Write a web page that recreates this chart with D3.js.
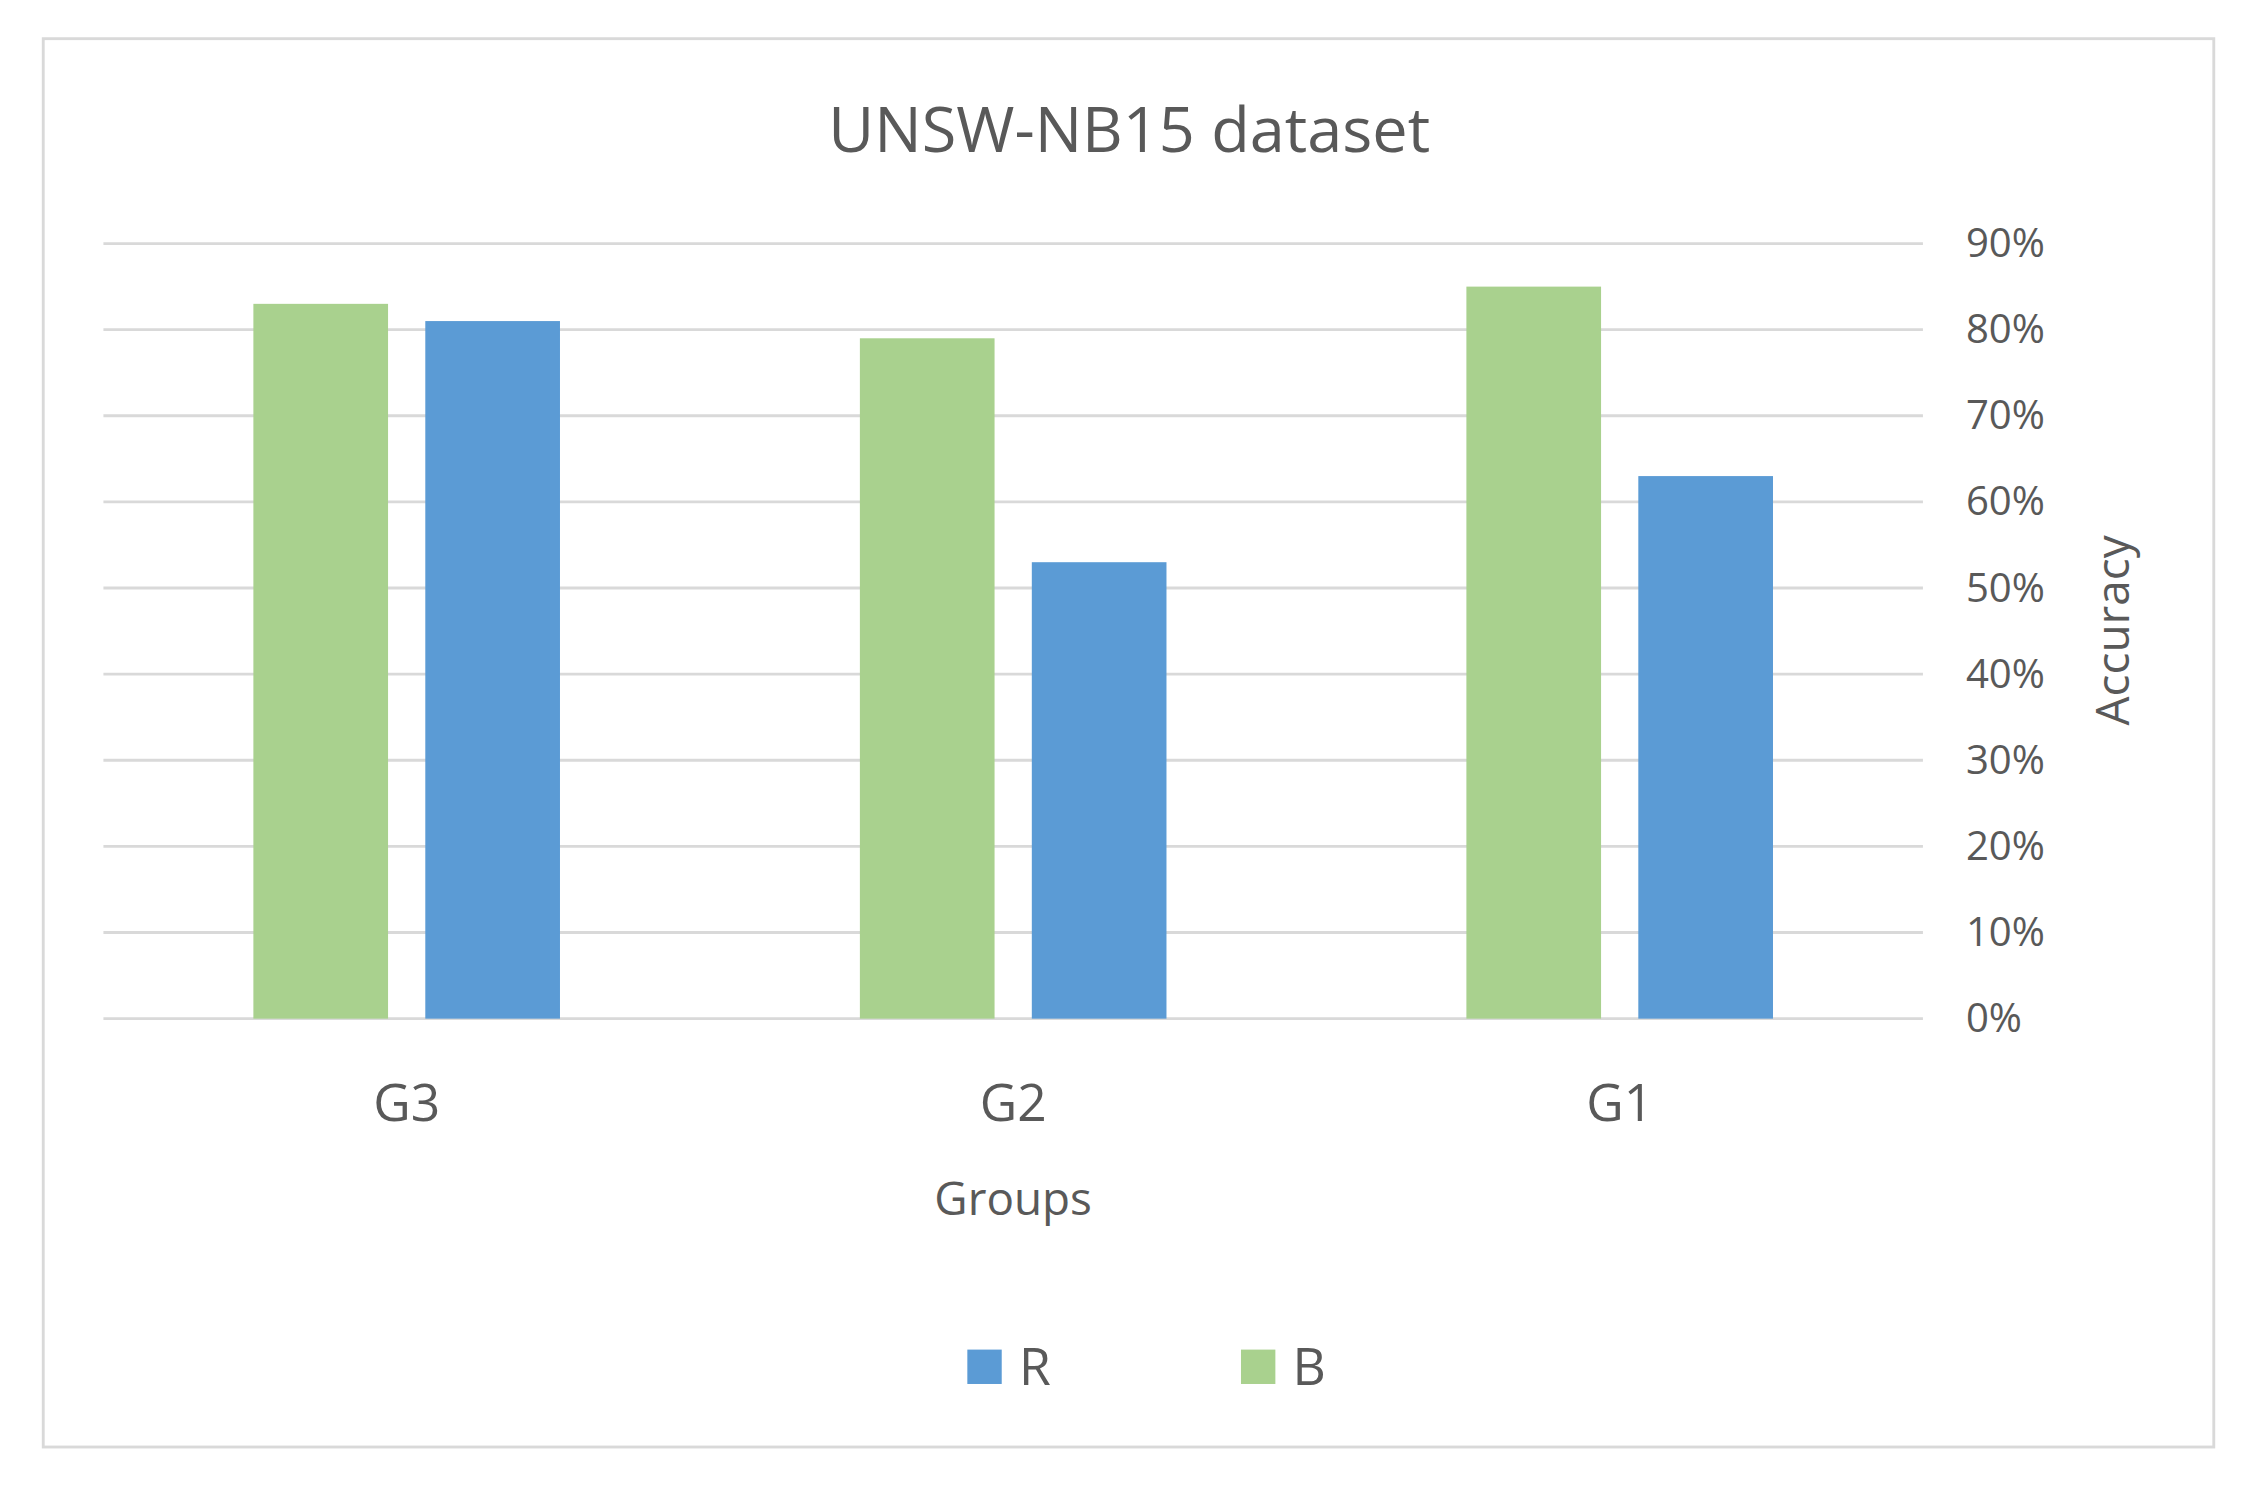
<!DOCTYPE html>
<html>
<head>
<meta charset="utf-8">
<script src="https://cdn.jsdelivr.net/npm/d3@7"></script>
<style>
  html, body { margin: 0; padding: 0; background: #fff; }
  text { font-family: "Open Sans", "Noto Sans", sans-serif; fill: #595959; }
</style>
</head>
<body>
<div id="chart"></div>
<script>
var groups   = ['G3', 'G2', 'G1'];
var seriesB  = [0.83, 0.79, 0.85];
var seriesR  = [0.81, 0.53, 0.63];
var yTicks   = [0, 0.1, 0.2, 0.3, 0.4, 0.5, 0.6, 0.7, 0.8, 0.9];

var W = 1568, H = 1040;
var svg = d3.select('#chart').append('svg')
    .attr('width', 2247).attr('height', 1490)
    .attr('viewBox', '0 0 ' + W + ' ' + H);

svg.append('rect')
    .attr('x', 30).attr('y', 27).attr('width', 1515).attr('height', 983)
    .attr('fill', '#fff').attr('stroke', '#d9d9d9').attr('stroke-width', 2);

var x = d3.scaleBand().domain(groups).range([72, 1342]);
var y = d3.scaleLinear().domain([0, 0.9]).range([711, 170]);

// grid
svg.selectAll('line.grid').data(yTicks).enter().append('line')
    .attr('class', 'grid')
    .attr('x1', 72).attr('x2', 1342)
    .attr('y1', function (d) { return y(d); })
    .attr('y2', function (d) { return y(d); })
    .attr('stroke', '#d9d9d9').attr('stroke-width', 2);

var barW = 94, gap = 13;
function cx(g) { return x(g) + x.bandwidth() / 2; }

svg.selectAll('rect.b').data(seriesB).enter().append('rect')
    .attr('x', function (d, i) { return cx(groups[i]) - gap - barW; })
    .attr('y', function (d) { return y(d); })
    .attr('width', barW)
    .attr('height', function (d) { return y(0) - y(d); })
    .attr('fill', '#a9d18e');

svg.selectAll('rect.r').data(seriesR).enter().append('rect')
    .attr('x', function (d, i) { return cx(groups[i]) + gap; })
    .attr('y', function (d) { return y(d); })
    .attr('width', barW)
    .attr('height', function (d) { return y(0) - y(d); })
    .attr('fill', '#5b9bd5');

// y axis (right)
var yAxis = svg.append('g').attr('transform', 'translate(1362,0)')
    .call(d3.axisRight(y).tickValues(yTicks).tickFormat(d3.format('.0%')).tickSize(0).tickPadding(10));
yAxis.select('.domain').remove();
yAxis.selectAll('text').style('font-size', '28px').attr('fill', '#595959');

// x axis
var xAxis = svg.append('g').attr('transform', 'translate(0,745)')
    .call(d3.axisBottom(x).tickSize(0).tickPadding(12));
xAxis.select('.domain').remove();
xAxis.selectAll('text').style('font-size', '36px').attr('fill', '#595959');

svg.append('text').attr('x', 788).attr('y', 106).attr('text-anchor', 'middle')
    .style('font-size', '44px').text('UNSW-NB15 dataset');
svg.append('text').attr('x', 707).attr('y', 848).attr('text-anchor', 'middle')
    .style('font-size', '32px').text('Groups');
svg.append('text').attr('transform', 'translate(1486,440) rotate(-90)')
    .attr('text-anchor', 'middle').style('font-size', '32px').text('Accuracy');

// legend
var legend = [{ k: 'R', c: '#5b9bd5', x: 675 }, { k: 'B', c: '#a9d18e', x: 866 }];
var lg = svg.selectAll('g.lg').data(legend).enter().append('g')
    .attr('transform', function (d) { return 'translate(' + d.x + ',942)'; });
lg.append('rect').attr('width', 24).attr('height', 24).attr('fill', function (d) { return d.c; });
lg.append('text').attr('x', 36).attr('y', 25).style('font-size', '36px').text(function (d) { return d.k; });
</script>
</body>
</html>
